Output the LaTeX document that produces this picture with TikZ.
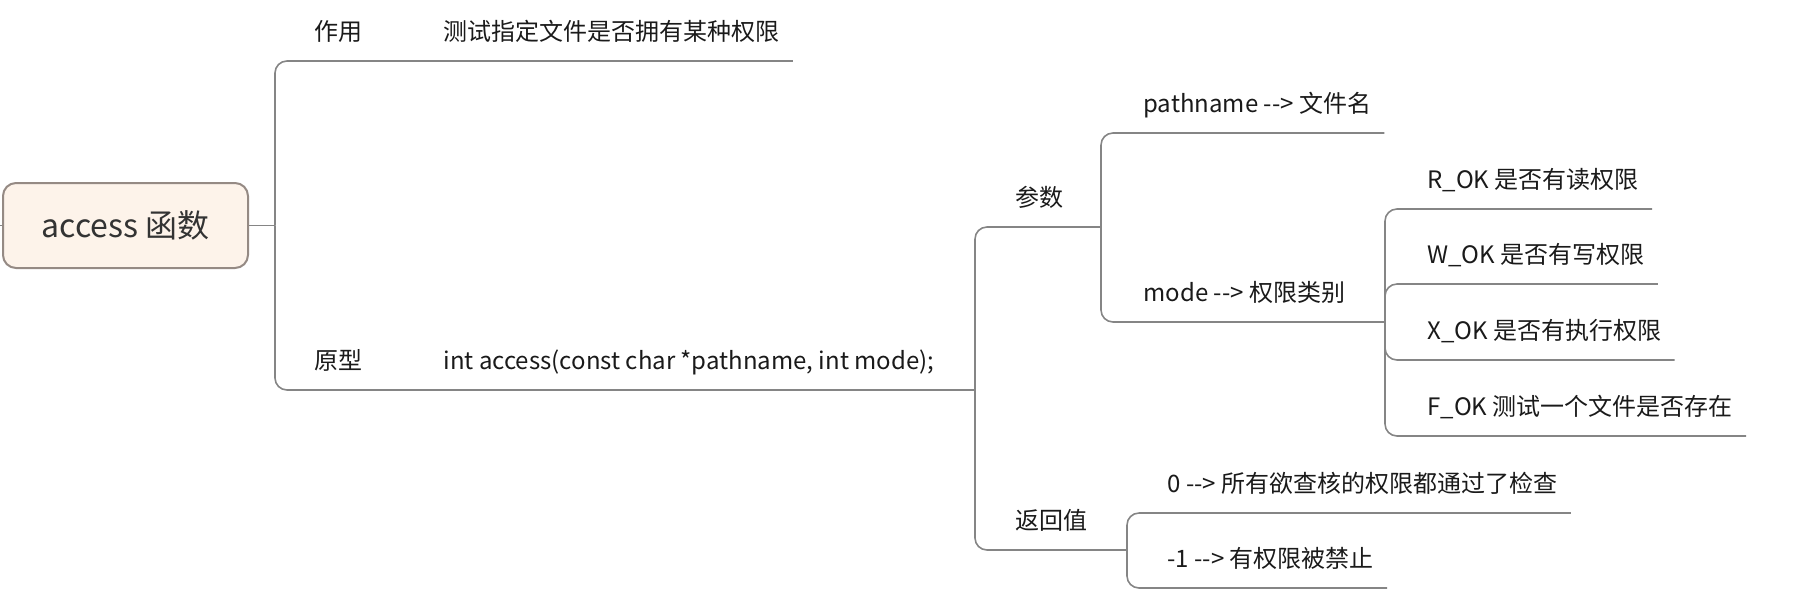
\documentclass[tikz,border=0pt]{standalone}
\usepackage{fontspec}
\setmainfont{Noto Sans CJK SC}
\usetikzlibrary{positioning}
\definecolor{ink}{HTML}{1A1A1A}
\definecolor{rootink}{HTML}{333333}
\definecolor{rootfill}{HTML}{FDF3EA}
\definecolor{rootline}{HTML}{958A84}
\definecolor{branchgray}{HTML}{858585}
\tikzset{
  rootbox/.style={draw=rootline,fill=rootfill,line width=1pt,rounded corners=6.5pt,
                  minimum width=122.5pt,minimum height=42.5pt,inner sep=0pt,
                  font=\fontsize{16pt}{20pt}\selectfont,text=rootink},
  topic/.style={anchor=south west,inner xsep=6.5pt,inner ysep=10pt,text depth=0pt,
                font=\fontsize{12pt}{14pt}\selectfont,text=ink},
  stem/.style={draw=branchgray,line width=0.8pt},
  branch/.style={draw=branchgray,line width=0.8pt,rounded corners=6pt}
}

\begin{document}
\begin{tikzpicture}[x=0.5pt,y=-0.5pt]
    \useasboundingbox (0,0) rectangle (1798,612);

    \node[rootbox] (root) at (125.5,225.5) {access 函数};
    \coordinate (stub) at (0,225.5);
    \coordinate (hub1) at (275,225.5);
    \draw[stem] (stub) -- (root.west);
    \draw[stem] (root.east) -- (hub1);

    % first level
    \node[topic] (zuoyong) at (301,61) {作用};
    \node[topic] (purpose) at (430,61) {测试指定文件是否拥有某种权限};
    \node[topic] (proto) at (301,390) {原型};
    \node[topic] (intacc) at (430,390) {int access(const char *pathname, int mode);};
    \draw[branch] (hub1) |- (zuoyong.south east);
    \draw[stem] (zuoyong.south east) -- (purpose.south east);
    \draw[branch] (hub1) |- (proto.south east);
    \draw[stem] (proto.south east) -- (intacc.south east);

    % parameters and return value
    \coordinate (hub2) at (975,390);
    \draw[stem] (intacc.south east) -- (hub2);
    \node[topic] (param) at (1002,227) {参数};
    \node[topic] (retval) at (1002,550) {返回值};
    \draw[branch] (hub2) |- (param.south east);
    \draw[branch] (hub2) |- (retval.south east);

    \coordinate (hub3) at (1101,227);
    \draw[stem] (param.south east) -- (hub3);
    \node[topic] (pname) at (1130,133) {pathname {-}{-}> 文件名};
    \node[topic] (mode) at (1130,322) {mode {-}{-}> 权限类别};
    \draw[branch] (hub3) |- (pname.south east);
    \draw[branch] (hub3) |- (mode.south east);

    \coordinate (hub4) at (1385,322);
    \draw[stem] (mode.south east) -- (hub4);
    \node[topic] (rok) at (1414,209) {R\_OK 是否有读权限};
    \node[topic] (wok) at (1414,284) {W\_OK 是否有写权限};
    \node[topic] (xok) at (1414,360) {X\_OK 是否有执行权限};
    \node[topic] (fok) at (1414,436) {F\_OK 测试一个文件是否存在};
    \draw[branch] (hub4) |- (rok.south east);
    \draw[branch] (hub4) |- (wok.south east);
    \draw[branch] (hub4) |- (xok.south east);
    \draw[branch] (hub4) |- (fok.south east);

    \coordinate (hub5) at (1127,550);
    \draw[stem] (retval.south east) -- (hub5);
    \node[topic] (ok) at (1154,513) {0 {-}{-}> 所有欲查核的权限都通过了检查};
    \node[topic] (denied) at (1154,588) {-1 {-}{-}> 有权限被禁止};
    \draw[branch] (hub5) |- (ok.south east);
    \draw[branch] (hub5) |- (denied.south east);
\end{tikzpicture}
\end{document}
